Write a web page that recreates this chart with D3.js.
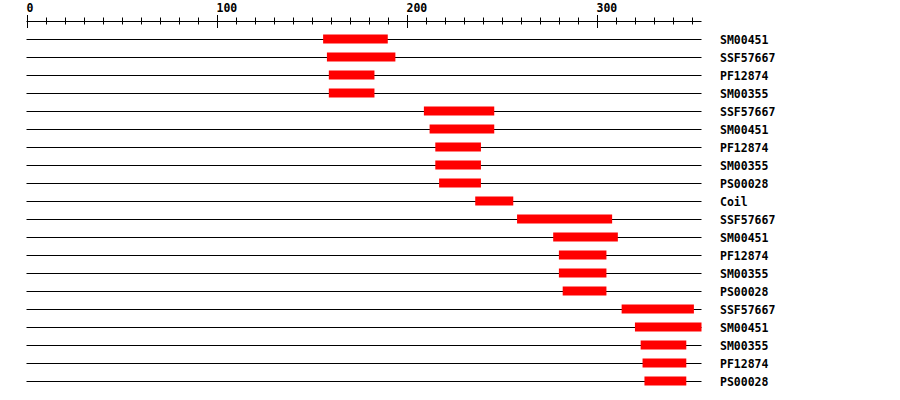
<!DOCTYPE html>
<html>
<head>
<meta charset="utf-8">
<script src="https://cdn.jsdelivr.net/npm/d3@7/dist/d3.min.js"></script>
<style>
  html, body { margin: 0; padding: 0; background: #fff; }
  text { font-family: "DejaVu Sans Mono", monospace; font-weight: bold; font-size: 11.5px; }
</style>
</head>
<body>
<div id="chart"></div>
<script>
// domain names, one per track (top to bottom)
const names = ["SM00451", "SSF57667", "PF12874", "SM00355", "SSF57667", "SM00451", "PF12874",
  "SM00355", "PS00028", "Coil", "SSF57667", "SM00451", "PF12874", "SM00355", "PS00028",
  "SSF57667", "SM00451", "SM00355", "PF12874", "PS00028"];
// start / end positions along the sequence
const starts = [156, 158, 159, 159, 209, 212, 215, 215, 217, 236, 258, 277, 280, 280, 282, 313, 320, 323, 324, 325];
const ends   = [190, 194, 183, 183, 246, 246, 239, 239, 239, 256, 308, 311, 305, 305, 305, 351, 355, 347, 347, 347];
const seqLength = 355;
const majorTicks = [0, 100, 200, 300];

const width = 900, height = 400;
const svg = d3.select("#chart").append("svg")
  .attr("width", width).attr("height", height);

const x = d3.scaleLinear().domain([0, seqLength]).range([26.5, 701.5]);
const y = d3.scaleBand().domain(d3.range(names.length)).range([30, 390]);
const rowY = i => Math.round(y(i) + y.bandwidth() / 2) + 0.5;

// ruler
const axisY = 21.5;
const ruler = svg.append("g");
ruler.append("line")
  .attr("x1", x(0)).attr("x2", x(seqLength))
  .attr("y1", axisY).attr("y2", axisY)
  .attr("stroke", "#000");
const minor = d3.range(0, seqLength, 10);
ruler.selectAll(".minor").data(minor).enter().append("line")
  .attr("x1", d => Math.round(x(d)) + 0.5).attr("x2", d => Math.round(x(d)) + 0.5)
  .attr("y1", d => d % 100 === 0 ? 15 : 17.5)
  .attr("y2", d => d % 100 === 0 ? 28 : 24.5)
  .attr("stroke", "#000");
ruler.selectAll(".lbl").data(majorTicks).enter().append("text")
  .attr("x", d => Math.round(x(d)) - 0.5)
  .attr("y", 12)
  .text(d => d);

// tracks
const rows = svg.selectAll(".row").data(names).enter().append("g");
rows.append("line")
  .attr("x1", x(0)).attr("x2", x(seqLength))
  .attr("y1", (d, i) => rowY(i)).attr("y2", (d, i) => rowY(i))
  .attr("stroke", "#000");
rows.append("rect")
  .attr("x", (d, i) => x(starts[i]))
  .attr("width", (d, i) => x(ends[i]) - x(starts[i]))
  .attr("y", (d, i) => rowY(i) - 5)
  .attr("height", 9)
  .attr("fill", "#ff0000");
rows.append("text")
  .attr("x", 720)
  .attr("y", (d, i) => rowY(i) + 4)
  .text(d => d);
</script>
</body>
</html>
